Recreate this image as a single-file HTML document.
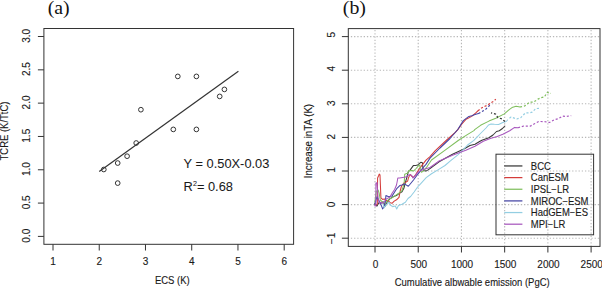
<!DOCTYPE html>
<html><head><meta charset="utf-8"><style>
html,body{margin:0;padding:0;background:#fff;}
body{width:602px;height:288px;overflow:hidden;}
svg{display:block;}
</style></head><body>
<svg width="602" height="288" viewBox="0 0 602 288">
<rect width="602" height="288" fill="#fff"/>
<g fill="none" stroke="#333" stroke-width="1">
<rect x="43.9" y="28.5" width="249.70000000000002" height="215.8"/>
<line x1="37.9" y1="236.40" x2="43.9" y2="236.40"/>
<line x1="37.9" y1="203.09" x2="43.9" y2="203.09"/>
<line x1="37.9" y1="169.77" x2="43.9" y2="169.77"/>
<line x1="37.9" y1="136.46" x2="43.9" y2="136.46"/>
<line x1="37.9" y1="103.14" x2="43.9" y2="103.14"/>
<line x1="37.9" y1="69.83" x2="43.9" y2="69.83"/>
<line x1="37.9" y1="36.51" x2="43.9" y2="36.51"/>
<line x1="53.00" y1="244.3" x2="53.00" y2="250.5"/>
<line x1="99.24" y1="244.3" x2="99.24" y2="250.5"/>
<line x1="145.48" y1="244.3" x2="145.48" y2="250.5"/>
<line x1="191.72" y1="244.3" x2="191.72" y2="250.5"/>
<line x1="237.96" y1="244.3" x2="237.96" y2="250.5"/>
<line x1="284.20" y1="244.3" x2="284.20" y2="250.5"/>
</g>
<g font-family="Liberation Sans, sans-serif" font-size="10" fill="#1a1a1a" stroke="#1a1a1a" stroke-width="0.12" text-anchor="middle">
<text transform="translate(53.00,265.20)" font-size="10" text-anchor="middle">1</text>
<text transform="translate(99.24,265.20)" font-size="10" text-anchor="middle">2</text>
<text transform="translate(145.48,265.20)" font-size="10" text-anchor="middle">3</text>
<text transform="translate(191.72,265.20)" font-size="10" text-anchor="middle">4</text>
<text transform="translate(237.96,265.20)" font-size="10" text-anchor="middle">5</text>
<text transform="translate(284.20,265.20)" font-size="10" text-anchor="middle">6</text>
<text transform="translate(30.00,235.70) rotate(-90)" font-size="10" text-anchor="middle">0.0</text>
<text transform="translate(30.00,202.39) rotate(-90)" font-size="10" text-anchor="middle">0.5</text>
<text transform="translate(30.00,169.07) rotate(-90)" font-size="10" text-anchor="middle">1.0</text>
<text transform="translate(30.00,135.76) rotate(-90)" font-size="10" text-anchor="middle">1.5</text>
<text transform="translate(30.00,102.44) rotate(-90)" font-size="10" text-anchor="middle">2.0</text>
<text transform="translate(30.00,69.13) rotate(-90)" font-size="10" text-anchor="middle">2.5</text>
<text transform="translate(30.00,35.81) rotate(-90)" font-size="10" text-anchor="middle">3.0</text>
</g>
<g font-family="Liberation Sans, sans-serif" font-size="9.5" fill="#1a1a1a" stroke="#1a1a1a" stroke-width="0.12" text-anchor="middle">
<text transform="translate(172.30,283.90) scale(1,1.08)" font-size="9.5" text-anchor="middle">ECS (K)</text>
<text transform="translate(8.00,131.00) rotate(-90) scale(1,1.08)" font-size="9.5" text-anchor="middle">TCRE (K/TtC)</text>
</g>
<g fill="none" stroke="#333" stroke-width="1.0">
<circle cx="103.8" cy="169.5" r="2.35"/>
<circle cx="117.7" cy="163.05" r="2.35"/>
<circle cx="117.7" cy="183.1" r="2.35"/>
<circle cx="127.1" cy="156.2" r="2.35"/>
<circle cx="136.2" cy="143" r="2.35"/>
<circle cx="140.9" cy="109.7" r="2.35"/>
<circle cx="173.3" cy="129.4" r="2.35"/>
<circle cx="177.8" cy="76.4" r="2.35"/>
<circle cx="196.4" cy="76.4" r="2.35"/>
<circle cx="196.4" cy="129.4" r="2.35"/>
<circle cx="219.7" cy="96.4" r="2.35"/>
<circle cx="224.4" cy="89.4" r="2.35"/>
</g>
<line x1="99.2" y1="171.4" x2="238.4" y2="71.2" stroke="#333" stroke-width="1.2"/>
<g font-family="Liberation Sans, sans-serif" font-size="12.7" fill="#1a1a1a" stroke="#1a1a1a" stroke-width="0.05">
<text transform="translate(183.60,167.90) scale(1,1.03)" font-size="12.85">Y = 0.50X-0.03</text>
<text transform="translate(183.60,190.80) scale(1,1.03)" font-size="12.85">R<tspan font-size="7.2" dy="-4.7">2</tspan><tspan dy="4.7">= 0.68</tspan></text>
</g>
<text x="47.7" y="13.9" font-family="Liberation Serif, serif" font-size="19.8" fill="#111">(a)</text>
<text x="342.8" y="13.9" font-family="Liberation Serif, serif" font-size="19.8" fill="#111">(b)</text>
<g fill="none" stroke="#b8b8b8" stroke-width="1.1">
<line x1="375.00" y1="28.6" x2="375.00" y2="246.4" stroke-dasharray="1.3 1.915" stroke-dashoffset="1.815"/>
<line x1="418.22" y1="28.6" x2="418.22" y2="246.4" stroke-dasharray="1.3 1.915" stroke-dashoffset="1.815"/>
<line x1="461.44" y1="28.6" x2="461.44" y2="246.4" stroke-dasharray="1.3 1.915" stroke-dashoffset="1.815"/>
<line x1="504.66" y1="28.6" x2="504.66" y2="246.4" stroke-dasharray="1.3 1.915" stroke-dashoffset="1.815"/>
<line x1="547.88" y1="28.6" x2="547.88" y2="246.4" stroke-dasharray="1.3 1.915" stroke-dashoffset="1.815"/>
<line x1="591.10" y1="28.6" x2="591.10" y2="246.4" stroke-dasharray="1.3 1.915" stroke-dashoffset="1.815"/>
<line x1="348.3" y1="238.20" x2="600.0" y2="238.20" stroke-dasharray="1.3 1.907" stroke-dashoffset="0.65"/>
<line x1="348.3" y1="204.60" x2="600.0" y2="204.60" stroke-dasharray="1.3 1.907" stroke-dashoffset="0.65"/>
<line x1="348.3" y1="171.00" x2="600.0" y2="171.00" stroke-dasharray="1.3 1.907" stroke-dashoffset="0.65"/>
<line x1="348.3" y1="137.40" x2="600.0" y2="137.40" stroke-dasharray="1.3 1.907" stroke-dashoffset="0.65"/>
<line x1="348.3" y1="103.80" x2="600.0" y2="103.80" stroke-dasharray="1.3 1.907" stroke-dashoffset="0.65"/>
<line x1="348.3" y1="70.20" x2="600.0" y2="70.20" stroke-dasharray="1.3 1.907" stroke-dashoffset="0.65"/>
<line x1="348.3" y1="36.60" x2="600.0" y2="36.60" stroke-dasharray="1.3 1.907" stroke-dashoffset="0.65"/>
</g>
<g fill="none" stroke-width="1.05" stroke-linejoin="round" stroke-linecap="round">
<polyline points="374.8,203.3 377.0,206.1 379.2,202.2 380.9,203.3 383.1,201.7 385.3,206.1 387.0,202.2 389.8,198.9 393.1,196.7 396.4,195.6 399.2,193.3 402.0,191.7 404.0,188.0 405.2,183.1 407.3,175.8 408.3,171.7 410.4,169.6 413.5,165.4 415.6,165.4 417.7,164.9 420.8,162.3 422.4,162.8 422.9,167.5 423.4,170.6 426.0,171.1 427.6,170.1 430.0,168.5 439.1,161.8 452.5,154.3 463.9,149.0 470.0,145.5 475.0,144.2 480.0,141.3 481.9,140.2 488.9,137.8 493.0,135.0 496.5,131.5 499.3,130.8 502.1,128.8 504.9,126.0" stroke="#383838"/>
<polyline points="374.6,205.0 377.3,204.5 377.6,178.0 378.5,176.0 379.2,174.1 380.0,174.9 380.4,185.0 380.9,197.8 382.6,199.4 384.2,198.9 386.4,200.6 388.7,201.1 390.3,202.8 392.0,203.3 394.2,201.1 396.5,199.8 399.0,197.3 400.2,191.0 401.5,186.0 403.9,183.0 405.6,182.4 407.7,181.0 408.4,178.0 409.5,175.6 410.5,174.6 411.9,176.5 413.5,177.4 415.6,174.8 418.8,169.6 421.9,165.4 426.0,160.2 430.0,156.6 435.3,150.6 446.7,140.0 455.3,132.4 457.8,129.6 461.9,124.0 466.1,119.2 471.7,116.4 475.8,112.9 477.9,110.8" stroke="#d43c3a"/>
<polyline points="374.8,202.2 376.4,191.1 378.1,190.0 379.2,193.3 380.3,200.0 382.6,202.2 385.3,203.3 388.7,199.4 392.0,197.8 395.3,195.6 398.7,193.3 402.0,190.6 404.2,183.1 404.7,174.3 407.3,173.2 408.9,170.6 412.5,170.6 413.5,171.1 416.1,168.5 418.8,165.4 419.8,164.9 420.3,170.1 421.4,172.2 423.4,171.1 427.1,166.5 430.0,162.3 431.5,160.0 444.8,150.3 458.2,140.5 466.9,134.9 473.9,130.6 475.0,129.4 480.6,125.3 488.9,121.1 495.8,118.3 504.3,113.9 509.2,109.7 512.0,107.6 516.1,106.2 520.0,107.0" stroke="#80bf5e"/>
<polyline points="374.8,204.4 377.0,196.7 378.1,198.9 379.8,202.2 381.4,205.6 382.6,208.9 383.7,207.2 385.3,202.2 385.9,195.6 388.7,196.7 392.0,196.1 394.8,191.7 397.0,188.3 399.8,185.6 402.0,185.0 404.4,183.9 408.3,186.2 409.4,185.0 413.5,180.0 417.7,174.3 421.9,169.0 426.0,164.4 430.0,158.1 440.0,148.0 450.0,138.5 457.8,129.5 463.3,120.6 468.9,116.4 471.7,115.7 475.8,114.3 478.6,113.6" stroke="#4444a4"/>
<polyline points="383.1,204.4 384.2,207.8 386.0,205.0 389.2,202.2 390.3,205.0 392.6,206.7 395.3,206.1 396.7,209.0 398.5,205.5 402.0,204.3 405.4,202.3 408.0,198.5 410.6,196.5 414.1,192.0 417.6,187.0 421.0,183.3 426.2,177.6 431.5,173.8 438.4,169.6 445.0,165.5 450.4,160.8 458.2,154.6 467.6,145.0 473.9,140.3 480.0,134.0 483.0,131.0 486.0,128.0 488.5,125.0 491.0,124.0 494.4,124.3 498.6,124.5 502.8,122.5 506.2,121.5 507.6,120.0" stroke="#93cee2"/>
<polyline points="374.6,205.8 375.9,206.0 375.9,183.3 377.0,182.6 377.5,190.0 378.1,197.8 378.7,201.0 379.8,203.3 380.9,202.2 382.6,203.3 384.2,201.7 386.4,198.9 389.8,197.2 392.2,193.0 394.6,189.5 396.5,185.0 397.3,181.0 397.8,178.0 399.6,178.0 402.6,177.4 405.6,177.0 407.7,175.6 410.2,174.6 411.9,175.6 412.9,178.0 414.7,176.3 418.0,172.2 420.8,170.6 425.0,169.0 430.0,167.5 439.1,161.0 452.5,155.2 465.8,150.3 475.0,146.2 483.3,141.2 490.3,138.5 497.2,136.4 502.8,134.3 509.7,130.8 514.6,127.4 518.0,127.8" stroke="#a858be"/>
<polyline points="504.9,121.5 502.1,119.0 497.9,117.6 495.8,114.2 491.0,112.8" stroke="#383838" stroke-width="1.2" stroke-linecap="butt" stroke-dasharray="2.1 1.9"/>
<polyline points="477.9,110.8 479.3,109.8 481.2,108.2 485.0,106.2 487.8,105.1 490.9,102.7 493.7,101.3 495.8,99.2" stroke="#d43c3a" stroke-width="1.2" stroke-linecap="butt" stroke-dasharray="2.1 1.9"/>
<polyline points="520.0,107.0 524.9,105.9 529.7,102.1 533.4,102.2 538.0,99.1 541.3,97.6 544.3,97.0 547.3,92.4 551.0,93.4" stroke="#80bf5e" stroke-width="1.2" stroke-linecap="butt" stroke-dasharray="2.1 1.9"/>
<polyline points="478.6,113.6 482.0,111.5 485.6,109.4 489.0,106.0 491.1,103.6" stroke="#4444a4" stroke-width="1.2" stroke-linecap="butt" stroke-dasharray="2.1 1.9"/>
<polyline points="509.5,118.2 511.1,116.9 516.7,119.0 520.8,117.6 525.5,112.8 529.1,112.8 532.2,112.2 535.8,108.6 540.0,108.2" stroke="#93cee2" stroke-width="1.2" stroke-linecap="butt" stroke-dasharray="2.1 1.9"/>
<polyline points="518.0,127.8 523.0,126.2 530.2,126.2 534.4,123.8 539.0,121.4 544.6,121.7 549.4,122.5 554.3,119.7 558.5,118.6 562.6,116.1 566.1,116.5 571.2,115.6" stroke="#a858be" stroke-width="1.2" stroke-linecap="butt" stroke-dasharray="2.1 1.9"/>
</g>
<g fill="none" stroke="#333" stroke-width="1">
<rect x="348.3" y="28.6" width="251.7" height="217.8"/>
<line x1="341.9" y1="238.20" x2="348.3" y2="238.20"/>
<line x1="341.9" y1="204.60" x2="348.3" y2="204.60"/>
<line x1="341.9" y1="171.00" x2="348.3" y2="171.00"/>
<line x1="341.9" y1="137.40" x2="348.3" y2="137.40"/>
<line x1="341.9" y1="103.80" x2="348.3" y2="103.80"/>
<line x1="341.9" y1="70.20" x2="348.3" y2="70.20"/>
<line x1="341.9" y1="36.60" x2="348.3" y2="36.60"/>
<line x1="375.00" y1="246.4" x2="375.00" y2="252.5"/>
<line x1="418.22" y1="246.4" x2="418.22" y2="252.5"/>
<line x1="461.44" y1="246.4" x2="461.44" y2="252.5"/>
<line x1="504.66" y1="246.4" x2="504.66" y2="252.5"/>
<line x1="547.88" y1="246.4" x2="547.88" y2="252.5"/>
<line x1="591.10" y1="246.4" x2="591.10" y2="252.5"/>
</g>
<g font-family="Liberation Sans, sans-serif" font-size="10" fill="#1a1a1a" stroke="#1a1a1a" stroke-width="0.12" text-anchor="middle">
<text transform="translate(375.60,267.50)" font-size="10" text-anchor="middle">0</text>
<text transform="translate(418.82,267.50)" font-size="10" text-anchor="middle">500</text>
<text transform="translate(462.04,267.50)" font-size="10" text-anchor="middle">1000</text>
<text transform="translate(505.26,267.50)" font-size="10" text-anchor="middle">1500</text>
<text transform="translate(548.48,267.50)" font-size="10" text-anchor="middle">2000</text>
<text transform="translate(591.70,267.50)" font-size="10" text-anchor="middle">2500</text>
<text transform="translate(335.00,238.50) rotate(-90)" font-size="10" text-anchor="middle">−1</text>
<text transform="translate(335.00,204.40) rotate(-90)" font-size="10" text-anchor="middle">0</text>
<text transform="translate(335.00,169.90) rotate(-90)" font-size="10" text-anchor="middle">1</text>
<text transform="translate(335.00,136.60) rotate(-90)" font-size="10" text-anchor="middle">2</text>
<text transform="translate(335.00,103.20) rotate(-90)" font-size="10" text-anchor="middle">3</text>
<text transform="translate(335.00,68.70) rotate(-90)" font-size="10" text-anchor="middle">4</text>
<text transform="translate(335.00,34.60) rotate(-90)" font-size="10" text-anchor="middle">5</text>
</g>
<g font-family="Liberation Sans, sans-serif" font-size="9.5" fill="#1a1a1a" stroke="#1a1a1a" stroke-width="0.12" text-anchor="middle">
<text transform="translate(472.20,286.00) scale(1,1.08)" font-size="9.5" text-anchor="middle">Cumulative albwable emission (PgC)</text>
<text transform="translate(312.30,141.10) rotate(-90) scale(1,1.08)" font-size="9.75" text-anchor="middle">Increase inTA (K)</text>
</g>
<rect x="496" y="154.2" width="97.6" height="80.6" fill="none" stroke="#333" stroke-width="1"/>
<g font-family="Liberation Sans, sans-serif" font-size="9.5" fill="#1a1a1a" stroke="#1a1a1a" stroke-width="0.12">
<line x1="504.2" y1="165.95" x2="522.4" y2="165.95" stroke="#383838" stroke-width="1.25"/>
<text transform="translate(530.80,169.80) scale(1,1.08)" font-size="9.5">BCC</text>
<line x1="504.2" y1="177.60" x2="522.4" y2="177.60" stroke="#d43c3a" stroke-width="1.25"/>
<text transform="translate(530.80,181.45) scale(1,1.08)" font-size="9.5">CanESM</text>
<line x1="504.2" y1="189.25" x2="522.4" y2="189.25" stroke="#80bf5e" stroke-width="1.25"/>
<text transform="translate(530.80,193.10) scale(1,1.08)" font-size="9.5">IPSL−LR</text>
<line x1="504.2" y1="200.90" x2="522.4" y2="200.90" stroke="#4444a4" stroke-width="1.25"/>
<text transform="translate(530.80,204.75) scale(1,1.08)" font-size="9.5">MIROC−ESM</text>
<line x1="504.2" y1="212.55" x2="522.4" y2="212.55" stroke="#93cee2" stroke-width="1.25"/>
<text transform="translate(530.80,216.40) scale(1,1.08)" font-size="9.5">HadGEM−ES</text>
<line x1="504.2" y1="224.20" x2="522.4" y2="224.20" stroke="#a858be" stroke-width="1.25"/>
<text transform="translate(530.80,228.05) scale(1,1.08)" font-size="9.5">MPI−LR</text>
</g>
</svg>
</body></html>
